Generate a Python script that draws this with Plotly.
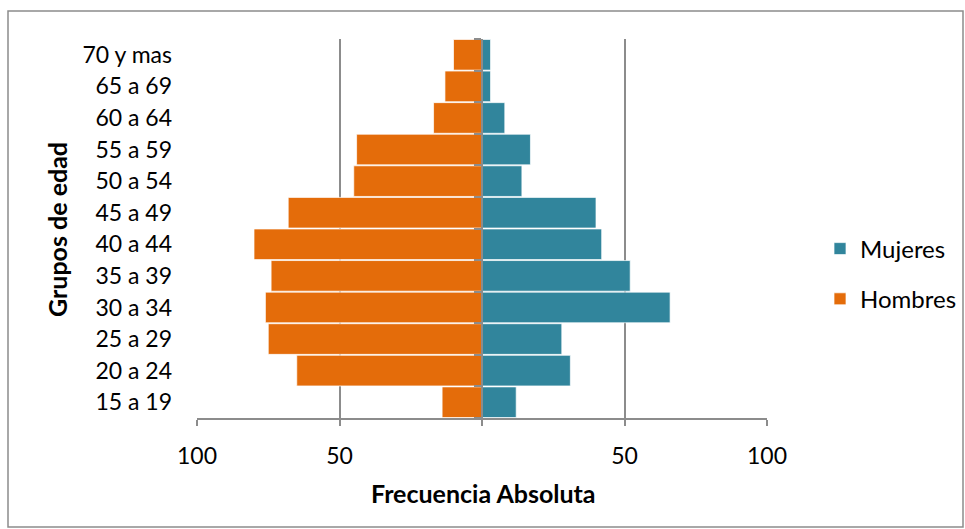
import plotly.graph_objects as go

# Age groups, bottom to top
grupos = ["15 a 19", "20 a 24", "25 a 29", "30 a 34", "35 a 39", "40 a 44",
          "45 a 49", "50 a 54", "55 a 59", "60 a 64", "65 a 69", "70 y mas"]
hombres = [14, 65, 75, 76, 74, 80, 68, 45, 44, 17, 13, 10]
mujeres = [12, 31, 28, 66, 52, 42, 40, 14, 17, 8, 3, 3]

x_ticks = [-100, -50, 0, 50, 100]
x_tick_labels = ["100", "50", "", "50", "100"]

FONT = "Lato"
GRID = "#8c8c8c"
C_HOMBRES = "#E46C0A"
C_MUJERES = "#31859C"

fig = go.Figure()
fig.add_trace(go.Bar(
    y=grupos, x=[-v for v in hombres], orientation="h", name="Hombres",
    marker=dict(color=C_HOMBRES, line=dict(color="rgba(255,255,255,0.7)", width=1)),
    customdata=hombres, hovertemplate="%{y}: %{customdata}<extra>Hombres</extra>",
    legendgroup="h", legendrank=2, yaxis="y",
))
fig.add_trace(go.Bar(
    y=grupos, x=mujeres, orientation="h", name="Mujeres",
    marker=dict(color=C_MUJERES, line=dict(color="rgba(255,255,255,0.7)", width=1)),
    legendgroup="m", legendrank=1, yaxis="y2",
))

L, R, T, B = 197, 767, 39, 418
W, H = 965, 529
pw, ph = R - L, B - T

def px(x):
    return (x - L) / pw

def py(y):
    return (B - y) / ph

fig.update_layout(
    width=W, height=H,
    margin=dict(l=L, r=W - R, t=T, b=H - B, pad=0, autoexpand=False),
    paper_bgcolor="white", plot_bgcolor="white",
    font=dict(family=FONT, size=23, color="#000000"),
    barmode="overlay", bargap=0.03,
    showlegend=True,
    legend=dict(x=px(820), y=py(274), xanchor="left", yanchor="middle",
                traceorder="grouped", tracegroupgap=16,
                font=dict(family=FONT, size=24, color="#000000"),
                bgcolor="rgba(0,0,0,0)"),
    xaxis=dict(range=[-100, 100], tickvals=x_ticks, ticktext=x_tick_labels,
               showgrid=True, gridcolor=GRID, gridwidth=2,
               zeroline=False, showline=True, linecolor=GRID, linewidth=2,
               ticks="outside", ticklen=6, tickwidth=2, tickcolor=GRID,
               ticklabelstandoff=10, tickfont=dict(size=23), fixedrange=True),
    yaxis=dict(type="category", categoryorder="array", categoryarray=grupos,
               showgrid=False, zeroline=False, showline=False, ticks="",
               ticklabelstandoff=24, tickfont=dict(size=23)),
    yaxis2=dict(type="category", categoryorder="array", categoryarray=grupos,
                overlaying="y", matches="y", anchor="free", position=0.5,
                side="left", showticklabels=False, showgrid=False,
                showline=True, linecolor=GRID, linewidth=2,
                ticks="outside", tickson="boundaries", ticklen=7,
                tickwidth=2, tickcolor=GRID),
    annotations=[
        dict(text="<b>Frecuencia Absoluta</b>", xref="paper", yref="paper",
             x=px(483), y=py(493), xanchor="center", yanchor="middle",
             showarrow=False, font=dict(family=FONT, size=25)),
        dict(text="<b>Grupos de edad</b>", xref="paper", yref="paper",
             x=px(57), y=py(230), xanchor="center", yanchor="middle",
             showarrow=False, textangle=-90, font=dict(family=FONT, size=25)),
    ],
    shapes=[dict(type="rect", xref="paper", yref="paper",
                 x0=px(8), x1=px(963), y0=py(527), y1=py(11),
                 line=dict(color="#8c8c8c", width=1.5), layer="below")],
)

fig.write_html("out.html")
